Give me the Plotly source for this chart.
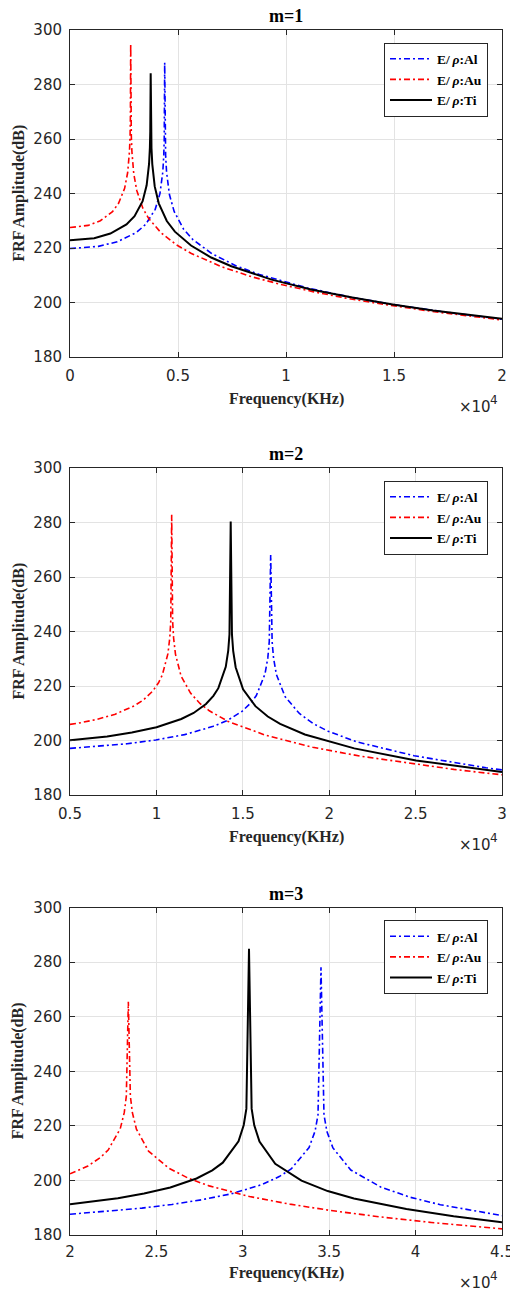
import plotly.graph_objects as go

# ---------------- data ----------------
# m = 1
f_m1_al = [0, 1315, 2192, 3069, 3507, 3946, 4165, 4296, 4340, 4362, 4384, 4406, 4428, 4472, 4603, 4822, 5261, 5699, 6576, 7672, 8768, 10960, 13152, 15344, 17536, 20000]
db_m1_al = [219.8, 220.6, 222.3, 225.65, 228.7, 234.2, 240.0, 247.85, 253.8, 259.8, 288.0, 259.8, 253.7, 247.7, 239.6, 233.4, 226.9, 223.0, 217.9, 213.5, 210.3, 205.4, 201.7, 198.8, 196.3, 193.9]
f_m1_au = [0, 843, 1405, 1967, 2248, 2529, 2670, 2754, 2782, 2796, 2810, 2824, 2838, 2866, 2951, 3091, 3372, 3653, 4215, 4918, 5620, 7025, 8430, 9835, 11240, 12645, 14050, 16860, 20000]
db_m1_au = [227.5, 228.3, 230.0, 233.35, 236.4, 241.9, 247.7, 255.55, 261.5, 267.5, 294.9, 267.5, 261.4, 255.4, 247.3, 241.1, 234.6, 230.7, 225.6, 221.2, 218.0, 213.1, 209.4, 206.5, 204.0, 201.8, 199.9, 196.6, 193.6]
f_m1_ti = [0, 1121, 1868, 2615, 2988, 3362, 3548, 3660, 3698, 3716, 3735, 3754, 3772, 3810, 3922, 4109, 4482, 4856, 5603, 6536, 7470, 9338, 11205, 13073, 14940, 16808, 18675, 20000]
db_m1_ti = [222.8, 223.6, 225.3, 228.65, 231.7, 237.2, 243.0, 250.85, 256.8, 262.8, 284.1, 262.8, 256.7, 250.7, 242.6, 236.4, 229.9, 226.0, 220.9, 216.5, 213.3, 208.4, 204.7, 201.8, 199.3, 197.1, 195.2, 194.0]

# m = 2
f_m2_al = [5000, 8307, 9968, 11630, 13291, 14122, 14953, 15451, 15783, 16282, 16448, 16531, 16614, 16697, 16780, 16946, 17445, 18275, 19106, 19937, 21598, 24921, 29075, 30000]
db_m2_al = [197.1, 198.8, 200.2, 202.15, 205.2, 207.4, 210.7, 213.7, 216.5, 224.35, 230.3, 236.3, 268.1, 236.3, 230.2, 224.2, 216.1, 209.9, 206.1, 203.4, 199.5, 194.4, 190.0, 189.2]
f_m2_au = [5000, 5443, 6531, 7620, 8708, 9252, 9797, 10123, 10341, 10667, 10776, 10831, 10885, 10939, 10994, 11103, 11429, 11974, 12518, 13062, 14151, 16328, 19049, 21770, 27213, 30000]
db_m2_au = [205.9, 206.3, 207.7, 209.65, 212.7, 214.9, 218.2, 221.2, 224.0, 231.85, 237.8, 243.8, 282.8, 243.8, 237.7, 231.7, 223.6, 217.4, 213.6, 210.9, 207.0, 201.9, 197.5, 194.3, 189.4, 187.4]
f_m2_ti = [5000, 7150, 8580, 10010, 11440, 12155, 12870, 13299, 13585, 14014, 14157, 14229, 14300, 14372, 14443, 14586, 15015, 15730, 16445, 17160, 18590, 21450, 25025, 28600, 30000]
db_m2_ti = [200.1, 201.5, 202.9, 204.85, 207.9, 210.1, 213.4, 216.4, 219.2, 227.05, 233.0, 239.0, 280.4, 239.0, 232.9, 226.9, 218.8, 212.6, 208.8, 206.1, 202.2, 197.1, 192.7, 189.5, 188.4]

# m = 3
f_m3_al = [20000, 24168, 25894, 27620, 29346, 31073, 32108, 32799, 33835, 34180, 34352, 34525, 34698, 34870, 35216, 36251, 37978, 39704, 41430, 45000]
db_m3_al = [187.6, 189.85, 191.2, 192.9, 195.1, 198.4, 201.4, 204.2, 212.05, 218.0, 224.0, 278.1, 224.0, 217.9, 211.9, 203.8, 197.6, 193.8, 191.1, 187.1]
f_m3_au = [20000, 21038, 21740, 22207, 22908, 23142, 23259, 23376, 23493, 23610, 23844, 24545, 25714, 26882, 28051, 30389, 32726, 35064, 37986, 40908, 45000]
db_m3_au = [202.4, 205.3, 208.3, 211.1, 218.95, 224.9, 230.9, 265.5, 230.9, 224.8, 218.8, 210.7, 204.5, 200.7, 198.0, 194.1, 191.3, 189.0, 186.6, 184.6, 182.25]
f_m3_ti = [20000, 21251, 22769, 24287, 25805, 27323, 28234, 28841, 29752, 30055, 30207, 30359, 30511, 30663, 30966, 31877, 33395, 34913, 36431, 39467, 42200, 45000]
db_m3_ti = [191.25, 192.15, 193.5, 195.2, 197.4, 200.7, 203.7, 206.5, 214.35, 220.3, 226.3, 284.9, 226.3, 220.2, 214.2, 206.1, 199.9, 196.1, 193.4, 189.5, 186.9, 184.7]

series_names = ["E/\u2009<i>ρ</i>:Al", "E/\u2009<i>ρ</i>:Au", "E/\u2009<i>ρ</i>:Ti"]
panel_titles = ["m=1", "m=2", "m=3"]
x_ranges = [[0, 20000], [5000, 30000], [20000, 45000]]
x_tickvals = [[0, 5000, 10000, 15000, 20000],
              [5000, 10000, 15000, 20000, 25000, 30000],
              [20000, 25000, 30000, 35000, 40000, 45000]]
x_ticktext = [["0", "0.5", "1", "1.5", "2"],
              ["0.5", "1", "1.5", "2", "2.5", "3"],
              ["2", "2.5", "3", "3.5", "4", "4.5"]]
y_ticks = [180, 200, 220, 240, 260, 280, 300]
x_label = "Frequency(KHz)"
y_label = "FRF Amplitude(dB)"
exp_base = "×10"
exp_power = "4"

panel_f = [[f_m1_al, f_m1_au, f_m1_ti], [f_m2_al, f_m2_au, f_m2_ti], [f_m3_al, f_m3_au, f_m3_ti]]
panel_db = [[db_m1_al, db_m1_au, db_m1_ti], [db_m2_al, db_m2_au, db_m2_ti], [db_m3_al, db_m3_au, db_m3_ti]]

# ---------------- layout / style ----------------
W, H = 510, 1292
L_PX, R_PX = 70, 502
tops = [30, 468, 907.5]
bots = [357, 795, 1235]
xlab_off = [42, 42, 38]
exp_off = [50, 50, 48]
colors = ["#0000ff", "#ff0000", "#000000"]
dashes = ["6px,3px,2px,3px", "6px,3px,2px,3px", "solid"]
widths = [1.6, 1.6, 2.0]
AX = "#262626"
SERIF = "Liberation Serif"
SANS = "DejaVu Sans"

fig = go.Figure()
annotations = []
layout_axes = {}

for i in range(3):
    sfx = "" if i == 0 else str(i + 1)
    xa, ya = "x" + sfx, "y" + sfx
    leg = "legend" + sfx
    for k in range(3):
        fig.add_trace(go.Scatter(
            x=panel_f[i][k], y=panel_db[i][k], mode="lines",
            name=series_names[k], xaxis=xa, yaxis=ya, legend=leg,
            line=dict(color=colors[k], width=widths[k], dash=dashes[k]),
            hoverinfo="skip"))
    top, bot = tops[i], bots[i]
    layout_axes["xaxis" + sfx] = dict(
        domain=[L_PX / W, R_PX / W], anchor=ya, range=x_ranges[i],
        tickvals=x_tickvals[i], ticktext=x_ticktext[i], automargin=False,
        ticklabeloverflow="allow",
        showgrid=True, gridcolor="#e3e3e3", gridwidth=1, zeroline=False,
        showline=True, linecolor=AX, linewidth=1, mirror="ticks",
        ticks="inside", ticklen=5, tickcolor=AX,
        ticklabelstandoff=5 if i < 2 else 3,
        tickfont=dict(family=SANS, size=15, color=AX))
    layout_axes["yaxis" + sfx] = dict(
        domain=[1 - bot / H, 1 - top / H], anchor=xa, range=[180, 300],
        tickvals=y_ticks, automargin=False, ticklabeloverflow="allow",
        showgrid=True, gridcolor="#e3e3e3", gridwidth=1,
        zeroline=False, showline=True, linecolor=AX, linewidth=1, mirror="ticks",
        ticks="inside", ticklen=5, tickcolor=AX, ticklabelstandoff=4,
        tickfont=dict(family=SANS, size=15, color=AX))
    layout_axes[leg] = dict(
        x=488 / W, xanchor="right", y=1 - (top + 12.5) / H, yanchor="top",
        bgcolor="white", bordercolor=AX, borderwidth=1,
        font=dict(family=SERIF, size=13.5, color="black", weight="bold"),
        tracegroupgap=0, itemwidth=42)
    cx = (L_PX + R_PX) / 2 / W
    annotations.append(dict(text=panel_titles[i], x=cx, y=1 - (top - 14) / H,
                            xref="paper", yref="paper", showarrow=False,
                            xanchor="center", yanchor="middle",
                            font=dict(family=SERIF, size=18, color="black", weight="bold")))
    annotations.append(dict(text=x_label, x=cx, y=1 - (bot + xlab_off[i]) / H,
                            xref="paper", yref="paper", showarrow=False,
                            xanchor="center", yanchor="middle", borderpad=0,
                            font=dict(family=SERIF, size=16, color=AX, weight="bold")))
    annotations.append(dict(text=exp_base, x=492 / W, y=1 - (bot + exp_off[i]) / H,
                            xref="paper", yref="paper", showarrow=False,
                            xanchor="right", yanchor="middle", borderpad=0,
                            font=dict(family=SANS, size=15, color=AX)))
    annotations.append(dict(text=exp_power, x=489 / W, y=1 - (bot + exp_off[i] - 7) / H,
                            xref="paper", yref="paper", showarrow=False,
                            xanchor="left", yanchor="middle", borderpad=0,
                            font=dict(family=SANS, size=12, color=AX)))
    annotations.append(dict(text=y_label, x=18 / W, y=1 - (top + bot) / 2 / H,
                            xref="paper", yref="paper", showarrow=False,
                            xanchor="center", yanchor="middle", textangle=-90,
                            font=dict(family=SERIF, size=16, color=AX, weight="bold")))

fig.update_layout(
    template="none",
    width=W, height=H, margin=dict(l=0, r=0, t=0, b=0, autoexpand=False),
    paper_bgcolor="white", plot_bgcolor="white",
    showlegend=True, annotations=annotations, **layout_axes)

fig.write_html("out.html", config={"displayModeBar": False},
               post_script="document.body.style.margin='0';document.body.style.overflow='hidden';")
